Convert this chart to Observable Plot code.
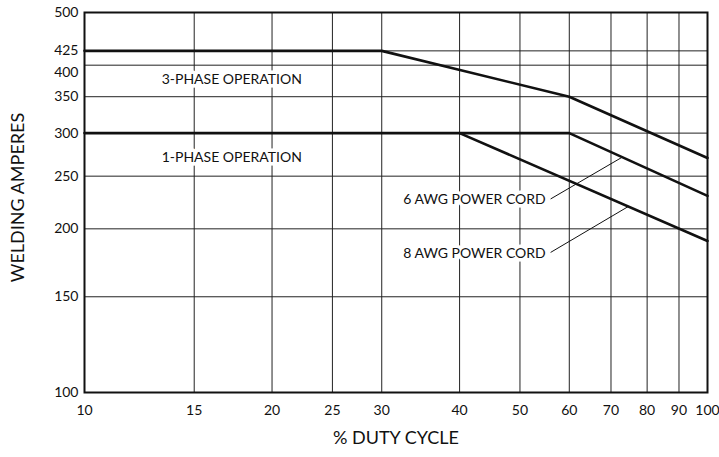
<!DOCTYPE html>
<html>
<head>
<meta charset="utf-8">
<script src="https://cdn.jsdelivr.net/npm/d3@7"></script>
<script src="https://cdn.jsdelivr.net/npm/@observablehq/plot@0.6"></script>
<style>
  html, body { margin: 0; padding: 0; background: #fff; }
  #chart svg { display: block; }
</style>
</head>
<body>
<div id="chart"></div>
<script>
// Tick values
const xTicks = [10, 15, 20, 25, 30, 40, 50, 60, 70, 80, 90, 100];
const yTicks = [100, 150, 200, 250, 300, 350, 400, 425, 500];

// Series: 3-phase operation
const threePhaseDuty = [10, 30, 60, 100];
const threePhaseAmps = [425, 425, 350, 270];
// Series: 1-phase operation, 6 AWG power cord
const cord6Duty = [10, 60, 100];
const cord6Amps = [300, 300, 230];
// Series: 1-phase operation, 8 AWG power cord (branches off at 40%)
const cord8Duty = [40, 100];
const cord8Amps = [300, 190];

// Text annotations
const labelText = ["3-PHASE OPERATION", "1-PHASE OPERATION"];
const labelDuty = [13.3, 13.3];
const labelAmps = [376, 271];

const cordText = ["6 AWG POWER CORD", "8 AWG POWER CORD"];
const cordTextDuty = [55, 55];
const cordTextAmps = [226, 180];
const leaderFromDuty = [56, 56];
const leaderFromAmps = [227, 181];
const leaderToDuty = [73, 74.7];
const leaderToAmps = [271, 220];

const toRows = (xs, ys) => xs.map((x, i) => ({x, y: ys[i]}));
const threePhase = toRows(threePhaseDuty, threePhaseAmps);
const cord6 = toRows(cord6Duty, cord6Amps);
const cord8 = toRows(cord8Duty, cord8Amps);
const labels = labelText.map((t, i) => ({t, x: labelDuty[i], y: labelAmps[i]}));
const cords = cordText.map((t, i) => ({
  t, x: cordTextDuty[i], y: cordTextAmps[i],
  x1: leaderFromDuty[i], y1: leaderFromAmps[i], x2: leaderToDuty[i], y2: leaderToAmps[i]
}));

const font = "Lato, 'Open Sans', sans-serif";

const chart = Plot.plot({
  width: 719,
  height: 457,
  marginLeft: 84,
  marginRight: 12,
  marginTop: 12,
  marginBottom: 65,
  style: {fontFamily: font, background: "#fff", color: "#111"},
  x: {type: "log", domain: [10, 100], axis: null},
  y: {type: "log", domain: [100, 500], axis: null},
  marks: [
    Plot.ruleX(xTicks.slice(1, -1), {stroke: "#222", strokeWidth: 1}),
    Plot.ruleY(yTicks.slice(1, -1), {stroke: "#222", strokeWidth: 1}),
    // annotation labels with white halo breaking the grid
    Plot.text(labels, {x: "x", y: "y", text: "t", textAnchor: "start", fontSize: 14,
      fill: "#111", stroke: "white", strokeWidth: 7}),
    Plot.text(cords, {x: "x", y: "y", text: "t", textAnchor: "end", fontSize: 14,
      fill: "#111", stroke: "white", strokeWidth: 7}),
    // data lines
    Plot.line(threePhase, {x: "x", y: "y", stroke: "#111", strokeWidth: 2.6, strokeLinejoin: "miter"}),
    Plot.line(cord6, {x: "x", y: "y", stroke: "#111", strokeWidth: 2.6, strokeLinejoin: "miter"}),
    Plot.line(cord8, {x: "x", y: "y", stroke: "#111", strokeWidth: 2.6, strokeLinejoin: "miter"}),
    // leader lines
    Plot.link(cords, {x1: "x1", y1: "y1", x2: "x2", y2: "y2", stroke: "#111", strokeWidth: 1}),
    Plot.frame({stroke: "#111", strokeWidth: 2}),
    // tick labels
    Plot.text(xTicks, {x: d => d, frameAnchor: "bottom", lineAnchor: "middle", dy: 18, fontSize: 14, fill: "#111"}),
    Plot.text(yTicks.filter(d => d !== 400), {y: d => d, frameAnchor: "left", textAnchor: "end", dx: -6, fontSize: 14, fill: "#111"}),
    Plot.text(yTicks.filter(d => d === 400), {y: d => d, frameAnchor: "left", textAnchor: "end", dx: -6, dy: 7, fontSize: 14, fill: "#111"}),
    // axis titles
    Plot.text(["% DUTY CYCLE"], {frameAnchor: "bottom", textAnchor: "middle", lineAnchor: "middle", dy: 46, fontSize: 18, fill: "#111"}),
    Plot.text(["WELDING AMPERES"], {frameAnchor: "left", textAnchor: "middle", lineAnchor: "middle", dx: -66, dy: -5, rotate: -90, fontSize: 18, fill: "#111"})
  ]
});
document.getElementById("chart").append(chart);
</script>
</body>
</html>
